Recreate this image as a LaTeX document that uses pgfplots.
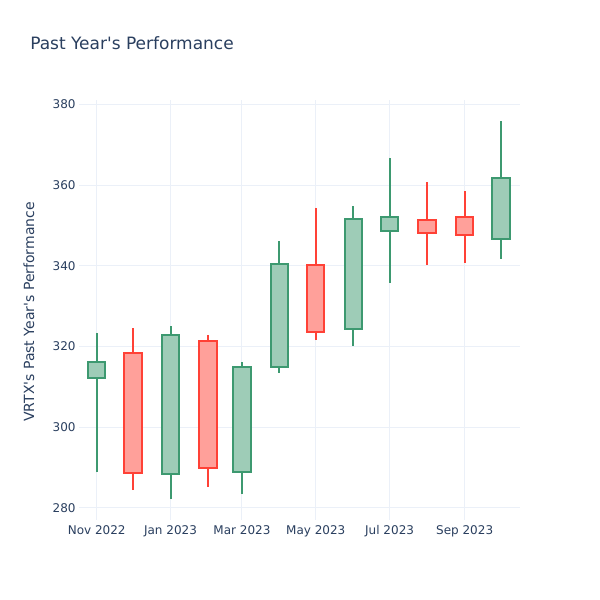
\documentclass[border=0pt]{standalone}
\usepackage{fontspec}
\setmainfont{DejaVu Sans}[Ligatures=TeXOff]
\usepackage{pgfplots}
\usepgfplotslibrary{statistics}
\pgfplotsset{compat=1.18}

\definecolor{txt}{HTML}{2A3F5F}
\definecolor{gridc}{HTML}{EBF0F8}
\definecolor{upline}{HTML}{3D9970}
\definecolor{upfill}{HTML}{9ECCB7}
\definecolor{dnline}{HTML}{FF4136}
\definecolor{dnfill}{HTML}{FFA09A}

% x = days since 1 Nov 2022, one candle per month
% candle: pos, low, min(open,close), close, max(open,close), high
\pgfplotsset{
  up/.style={draw=upline, fill=upfill, line width=1.5pt},
  dn/.style={draw=dnline, fill=dnfill, line width=1.5pt},
  candle/.style args={#1/#2/#3/#4/#5/#6}{
    boxplot prepared={draw direction=y, draw position=#1,
      lower whisker=#2, lower quartile=#3, median=#4,
      upper quartile=#5, upper whisker=#6,
      box extend=14.4, whisker extend=0}},
}

\begin{document}
\begin{tikzpicture}[x=0.75pt,y=0.75pt]
\path[use as bounding box, fill=white] (-79,-80) rectangle (521,520);
\begin{axis}[
  at={(0,0)}, anchor=south west,
  scale only axis, width=441*0.75pt, height=420*0.75pt,
  xmin=-14.6, xmax=349.7, ymin=277.0, ymax=381.07,
  axis line style={draw=none},
  major tick length=0pt,
  xtick={0,61,120,181,242,304},
  xticklabels={Nov 2022,Jan 2023,Mar 2023,May 2023,Jul 2023,Sep 2023},
  ytick={280,300,...,380},
  grid=major,
  major grid style={draw=gridc, line width=0.75pt},
  ticklabel style={font=\fontsize{9}{10}\selectfont, text=txt},
  /pgf/number format/assume math mode=true,
  xticklabel style={anchor=north, text height=7pt, text depth=2pt, yshift=0pt},
  yticklabel style={xshift=1pt},
  clip=false,
]
\addplot[up, candle={0/288.8/312.3/316.2/316.2/323.4}] coordinates {};
\addplot[dn, candle={30/284.4/288.6/288.6/318.4/324.5}] coordinates {};
\addplot[up, candle={61/282.2/288.4/322.9/322.9/325.0}] coordinates {};
\addplot[dn, candle={92/285.2/290.0/290.0/321.4/322.9}] coordinates {};
\addplot[up, candle={120/283.4/288.9/314.8/314.8/316.1}] coordinates {};
\addplot[up, candle={151/313.4/314.8/340.5/340.5/346.1}] coordinates {};
\addplot[dn, candle={181/321.6/323.5/323.5/340.2/354.4}] coordinates {};
\addplot[up, candle={212/320.0/324.3/351.7/351.7/354.7}] coordinates {};
\addplot[up, candle={242/335.8/348.7/352.1/352.1/366.8}] coordinates {};
\addplot[dn, candle={273/340.2/348.2/348.2/351.3/360.8}] coordinates {};
\addplot[dn, candle={304/340.7/347.6/347.6/352.2/358.4}] coordinates {};
\addplot[up, candle={334/341.7/346.6/361.7/361.7/375.8}] coordinates {};
\end{axis}
\node[anchor=base west, text=txt, font=\fontsize{12.75}{14}\selectfont, inner sep=0pt] at (-49,470) {Past Year's Performance};
\node[rotate=90, text=txt, font=\fontsize{10.5}{12}\selectfont, inner sep=0pt] at (-50,208) {VRTX's Past Year's Performance};
\end{tikzpicture}
\end{document}
